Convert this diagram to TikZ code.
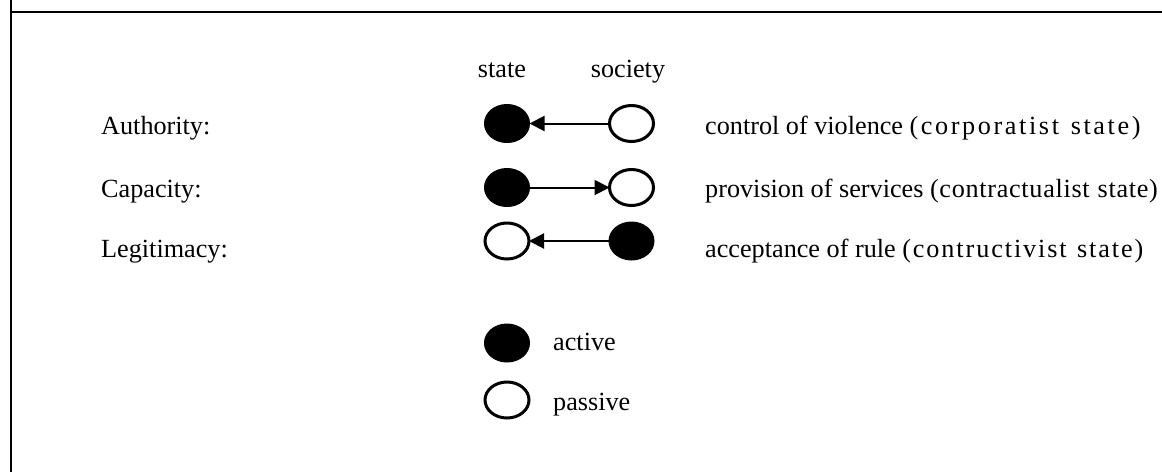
\documentclass[tikz,border=0pt]{standalone}
\usepackage{fontspec}
\setmainfont{Liberation Serif}
\usetikzlibrary{shapes.geometric,arrows.meta}
\makeatletter
\newcommand\lspc[2]{\def\lspc@k{#1}\@tfor\lspc@c:=#2\do{\lspc@c\kern\lspc@k}}
\makeatother
\begin{document}
\begin{tikzpicture}[x=1pt,y=-1pt,
  every node/.style={font=\fontsize{26.2}{30}\selectfont},
  lbl/.style={anchor=base west, inner sep=0},
  ctr/.style={anchor=base, inner sep=0},
  act/.style={ellipse, fill=black, draw=black, line width=1pt, minimum width=45pt, minimum height=38pt, inner sep=0, outer sep=0},
  pas/.style={ellipse, fill=white, draw=black, line width=3pt, minimum width=44pt, minimum height=36pt, inner sep=0, outer sep=0},
  link/.style={line width=2pt, -{Triangle[length=15pt,width=15pt]}},
  frame/.style={line width=2pt}]
\useasboundingbox (0,0) rectangle (1162,472);
% frame
\coordinate (fa) at (10.5,0);
\coordinate (fb) at (10.5,472);
\coordinate (fc) at (10.5,12);
\coordinate (fd) at (1162,12);
\draw[frame] (fa) -- (fb);
\draw[frame] (fc) -- (fd);
% column heads
\node[ctr] (st) at (502,77) {state};
\node[ctr] (so) at (628,77) {society};
% row 1
\node[lbl] (l1) at (101,134) {Authority:};
\node[act] (a1) at (507,123.5) {};
\node[pas] (b1) at (631.5,123.5) {};
\node[lbl] (r1) at (705,134) {control of violence \lspc{2.6pt}{(corporatist{\ }state)}};
\draw[link] (b1) -- (a1);
% row 2
\node[lbl] (l2) at (101,197) {Capacity:};
\node[act] (a2) at (507,187.5) {};
\node[pas] (b2) at (631.5,187.5) {};
\node[lbl] (r2) at (705,197) {provision of services \lspc{0.7pt}{(contractualist{\ }state)}};
\draw[link] (a2) -- (b2);
% row 3
\node[lbl] (l3) at (101,257) {Legitimacy:};
\node[pas] (a3) at (507,241) {};
\node[act] (b3) at (631.5,241) {};
\node[lbl] (r3) at (705,257) {acceptance of rule \lspc{1.9pt}{(contructivist{\ }state)}};
\draw[link] (b3) -- (a3);
% legend
\node[act] (ka) at (507,343) {};
\node[lbl] (ta) at (553,350) {active};
\node[pas] (kp) at (507,400) {};
\node[lbl] (tp) at (553,410) {passive};
\end{tikzpicture}
\end{document}
